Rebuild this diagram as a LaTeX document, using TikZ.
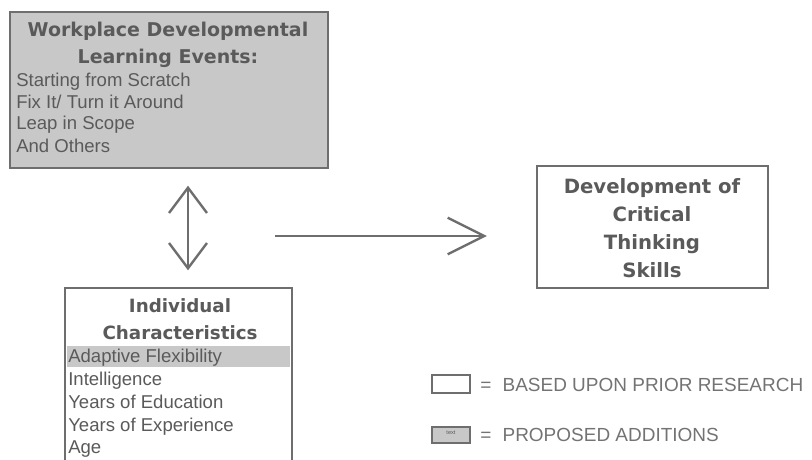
\documentclass[tikz,border=0pt]{standalone}
\usepackage{fontspec}
\setmainfont{Liberation Sans}
\newfontfamily\headfont{DejaVu Sans}
\usepackage{xcolor}
\usetikzlibrary{arrows.meta}
\usetikzlibrary{fit}
\definecolor{inkgray}{HTML}{5A5A5A}
\definecolor{linegray}{HTML}{6E6E6E}
\definecolor{addgray}{HTML}{C8C8C8}
\tikzset{basebox/.style={draw=linegray,line width=1.2pt,inner sep=0pt},
 addbox/.style={basebox,fill=addgray},
 headtext/.style={text=inkgray,align=center,font=\headfont\bfseries\fontsize{13.5}{19.5}\selectfont},
 itemtext/.style={text=inkgray,anchor=base west,inner sep=0pt,font=\fontsize{13.2}{15}\selectfont},
 legendtext/.style={text=inkgray!85,anchor=west,inner sep=0pt,font=\fontsize{13.5}{16}\selectfont},
 bigarrow/.style={draw=linegray,line width=1.7pt},
 }

\begin{document}
\begin{tikzpicture}[x=0.025cm,y=-0.025cm]
        \clip (0,0) rectangle (812,460);
        \useasboundingbox (0,0) rectangle (812,460);

        \node[addbox,fit={(10,12) (328,168)}] (events) {};
        \node[headtext] (eventstitle) at (168,45) {Workplace Developmental\\Learning Events:};
        \node[itemtext] (scratch) at (16,86) {Starting from Scratch};
        \node[itemtext] (fixit) at (16,108) {Fix It/ Turn it Around};
        \node[itemtext] (leap) at (16,130) {Leap in Scope};
        \node[itemtext] (others) at (16,152) {And Others};

        \node[basebox,fill=white,fit={(537,166) (768,288)}] (dev) {};
        \node[headtext,font=\headfont\bfseries\fontsize{14}{20}\selectfont] (devtitle) at (652,228) {Development of\\Critical\\Thinking\\Skills};

        \node[basebox,fill=white,fit={(65,288) (292,500)}] (chars) {};
        \fill[addgray] (67,346) rectangle (290,367);
        \node[headtext,font=\headfont\fontsize{13}{19}\selectfont\bfseries] (charstitle) at (180,319) {Individual\\Characteristics};
        \node[itemtext] (flex) at (68,362) {Adaptive Flexibility};
        \node[itemtext] (intel) at (68,385) {Intelligence};
        \node[itemtext] (educ) at (68,408) {Years of Education};
        \node[itemtext] (exper) at (68,431) {Years of Experience};
        \node[itemtext] (age) at (68,453) {Age};

        \draw[bigarrow,{Straight Barb[length=18pt,width=27pt]}-{Straight Barb[length=18pt,width=27pt]},shorten <=12pt,shorten >=12pt] (events.south -| 188,0) -- (chars.north -| 188,0);

        \coordinate (arrowstart) at (275,236);
        \draw[bigarrow,-{Straight Barb[length=26pt,width=26pt]},shorten >=35pt] (arrowstart) -- (arrowstart -| dev.west);

        \node[basebox,line width=1pt,fill=white,fit={(432,375) (470,393)}] (priorkey) {};
        \node[legendtext] (priorlabel) at (480,385) {=\hspace{8pt}BASED UPON PRIOR RESEARCH};
        \node[addbox,line width=1pt,fit={(432,427) (470,443)},font=\fontsize{4}{4}\selectfont,text=inkgray] (addkey) {text};
        \node[legendtext] (addlabel) at (480,435) {=\hspace{8pt}PROPOSED ADDITIONS};
    \end{tikzpicture}
\end{document}
